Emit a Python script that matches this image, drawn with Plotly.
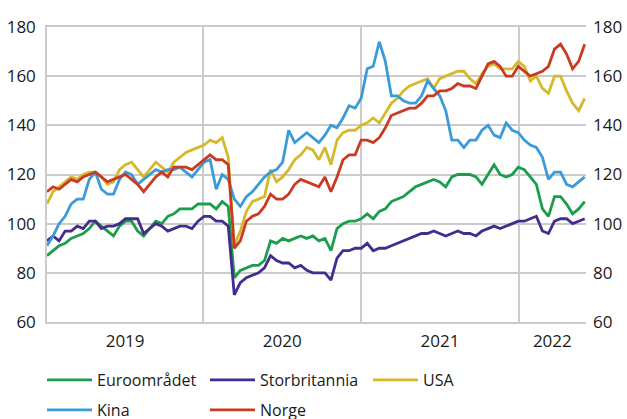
import pandas as pd
import plotly.graph_objects as go

# biweekly observations
dates = pd.date_range("2019-01-04", periods=90, freq="14D")

euro = [87, 89, 91, 92, 94, 95, 96, 98, 101, 99, 97, 95, 99, 101, 101, 97, 95, 98, 101, 100, 103, 104, 106,
        106, 106, 108, 108, 108, 106, 109, 107, 78, 81, 82, 83, 83, 85, 93, 92, 94, 93, 94, 95, 94, 95, 93,
        94, 89, 98, 100, 101, 101, 102, 104, 102, 105, 106, 109, 110, 111, 113, 115, 116, 117, 118, 117, 115, 119,
        120, 120, 120, 119, 116, 120, 124, 120, 119, 120, 123, 122, 119, 116, 106, 103, 111, 111, 108, 104, 106, 109]
uk = [93, 95, 93, 97, 97, 99, 98, 101, 101, 98, 99, 99, 100, 102, 102, 102, 96, 98, 100, 99, 97, 98, 99,
      99, 98, 101, 103, 103, 101, 101, 99, 71, 76, 78, 79, 80, 82, 87, 85, 84, 84, 82, 83, 81, 80, 80,
      80, 77, 86, 89, 89, 90, 90, 92, 89, 90, 90, 91, 92, 93, 94, 95, 96, 96, 97, 96, 95, 96,
      97, 96, 96, 95, 97, 98, 99, 98, 99, 100, 101, 101, 102, 103, 97, 96, 101, 102, 102, 100, 101, 102]
usa = [108, 113, 115, 117, 119, 118, 120, 121, 121, 119, 116, 117, 122, 124, 125, 122, 119, 122, 125, 123, 121, 125, 127,
       129, 130, 131, 132, 134, 133, 135, 127, 91, 97, 105, 109, 110, 111, 122, 117, 119, 122, 126, 128, 131, 130, 126,
       131, 124, 134, 137, 138, 138, 140, 141, 143, 141, 145, 149, 151, 154, 156, 157, 158, 159, 155, 159, 160, 161,
       162, 162, 159, 157, 161, 164, 165, 163, 163, 163, 166, 164, 158, 160, 155, 153, 160, 160, 154, 149, 146, 151]
kina = [91, 95, 100, 103, 108, 110, 110, 118, 121, 114, 112, 112, 118, 121, 120, 116, 118, 120, 122, 121, 122, 122, 123,
        121, 119, 122, 125, 126, 114, 120, 118, 110, 107, 111, 113, 116, 119, 121, 122, 125, 138, 133, 135, 137, 135, 133,
        136, 140, 139, 143, 148, 147, 151, 163, 164, 174, 166, 152, 152, 150, 149, 149, 152, 158, 155, 152, 146, 134,
        134, 131, 134, 134, 138, 140, 136, 135, 141, 138, 137, 134, 132, 131, 127, 118, 121, 121, 116, 115, 117, 119]
norge = [113, 115, 114, 116, 118, 117, 119, 120, 121, 119, 117, 118, 119, 120, 118, 116, 113, 116, 119, 121, 119, 123, 123,
         123, 122, 124, 126, 128, 126, 126, 124, 90, 93, 101, 103, 104, 107, 112, 110, 110, 112, 116, 118, 117, 116, 115,
         119, 113, 119, 126, 128, 128, 134, 134, 133, 135, 139, 144, 145, 146, 147, 147, 149, 152, 152, 154, 154, 155,
         157, 156, 156, 155, 160, 165, 166, 164, 160, 160, 164, 162, 160, 161, 162, 164, 171, 173, 169, 163, 166, 173]

series = [
    ("Euroområdet", euro, "#1b9e4b", "legend"),
    ("Storbritannia", uk, "#432c8e", "legend"),
    ("USA", usa, "#d6b92a", "legend"),
    ("Kina", kina, "#3a9bd8", "legend2"),
    ("Norge", norge, "#c83a22", "legend2"),
]

x_start = pd.Timestamp("2019-01-04")
x_end = pd.Timestamp("2022-06-06")
year_starts = [pd.Timestamp(f"{y}-01-01") for y in (2020, 2021, 2022)]
bounds = [x_start] + year_starts + [x_end]
label_pos = [a + (b - a) / 2 for a, b in zip(bounds[:-1], bounds[1:])]
year_labels = ["2019", "2020", "2021", "2022"]

grid = "#cbcbcb"
font = dict(family="Open Sans", size=16, color="#1a1a1a")
tick_font = dict(family="Open Sans", size=17, color="#1a1a1a")

fig = go.Figure()
for name, vals, col, leg in series:
    fig.add_trace(go.Scatter(x=dates, y=vals, name=name, mode="lines",
                             line=dict(color=col, width=2.8), legend=leg))
# empty trace so the right hand axis gets drawn
fig.add_trace(go.Scatter(x=[], y=[], yaxis="y2", showlegend=False))

fig.update_layout(
    width=627, height=419,
    margin=dict(l=47, r=41, t=27, b=97),
    plot_bgcolor="white", paper_bgcolor="white",
    font=font,
    xaxis=dict(range=[x_start, x_end], tickmode="array", tickvals=label_pos, ticktext=year_labels,
               showgrid=False, ticks="", showline=True, linecolor=grid, linewidth=1.5, mirror=True,
               ticklabelstandoff=3, automargin=False, tickfont=tick_font,
               minor=dict(tickmode="array", tickvals=year_starts, showgrid=True,
                          gridcolor=grid, gridwidth=1.5, ticks="")),
    yaxis=dict(range=[60, 180], dtick=20, showgrid=True, gridcolor=grid, gridwidth=1.5,
               showline=True, linecolor=grid, linewidth=1.5, ticks="", ticklabelstandoff=6,
               zeroline=False, automargin=False, tickfont=tick_font),
    yaxis2=dict(range=[60, 180], dtick=20, overlaying="y", side="right", showgrid=False,
                ticks="", ticklabelstandoff=6, zeroline=False, automargin=False, tickfont=tick_font),
    legend=dict(orientation="h", xref="container", yref="container", x=42 / 627, y=39 / 419,
                xanchor="left", yanchor="middle", itemwidth=45, entrywidth=103, font=font),
    legend2=dict(orientation="h", xref="container", yref="container", x=42 / 627, y=9 / 419,
                 xanchor="left", yanchor="middle", itemwidth=45, entrywidth=103, font=font),
    hovermode=False,
)

# page body has an 8px default margin, drop it so the figure sits at the window corner
fig.write_html("out.html", config={"displayModeBar": False},
               post_script="document.body.style.margin='0';")
